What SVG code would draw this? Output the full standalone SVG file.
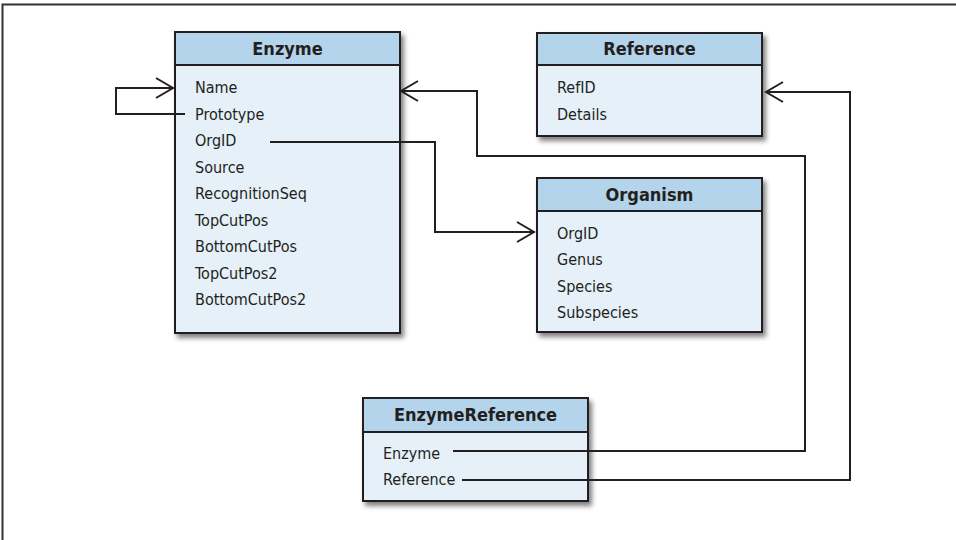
<svg xmlns="http://www.w3.org/2000/svg" width="956" height="540" viewBox="0 0 956 540">
<defs>
<filter id="sh" x="-10%" y="-10%" width="130%" height="130%">
<feGaussianBlur in="SourceAlpha" stdDeviation="2.5"/>
<feOffset dx="3" dy="4" result="b"/>
<feComponentTransfer><feFuncA type="linear" slope="0.5"/></feComponentTransfer>
<feMerge><feMergeNode/><feMergeNode in="SourceGraphic"/></feMerge>
</filter>
<marker id="arr" markerUnits="userSpaceOnUse" markerWidth="24" markerHeight="24" refX="18" refY="11" orient="auto">
<path d="M1,1 L18,11 L1,21" fill="none" stroke="#231f20" stroke-width="2"/>
</marker>
</defs>
<style>
.body{fill:#e5f0f8;stroke:#231f20;stroke-width:2}
.head{fill:#b3d4ea;stroke:#231f20;stroke-width:2}
.t{font-family:"DejaVu Sans Condensed","Liberation Sans Narrow","Liberation Sans",sans-serif;font-size:16px;fill:#231f20}
.h{font-family:"DejaVu Sans Condensed","Liberation Sans Narrow","Liberation Sans",sans-serif;font-size:18px;font-weight:bold;fill:#231f20;text-anchor:middle}
.c{fill:none;stroke:#231f20;stroke-width:2}
</style>
<rect width="956" height="540" fill="#fff"/>
<path d="M2.5,540 V4.5 H956" fill="none" stroke="#333" stroke-width="2"/>

<g id="enzyme">
<g filter="url(#sh)">
<rect class="body" x="175" y="32" width="225" height="301"/>
</g>
<rect class="head" x="175" y="32" width="225" height="33"/>
<text class="h" x="287.5" y="55">Enzyme</text>
<text class="t" x="195" y="93">Name</text>
<text class="t" x="195" y="119.5">Prototype</text>
<text class="t" x="195" y="146">OrgID</text>
<text class="t" x="195" y="172.5">Source</text>
<text class="t" x="195" y="199">RecognitionSeq</text>
<text class="t" x="195" y="225.5">TopCutPos</text>
<text class="t" x="195" y="252">BottomCutPos</text>
<text class="t" x="195" y="278.5">TopCutPos2</text>
<text class="t" x="195" y="305">BottomCutPos2</text>
</g>

<g id="reference">
<g filter="url(#sh)">
<rect class="body" x="537" y="33" width="225" height="103"/>
</g>
<rect class="head" x="537" y="33" width="225" height="32"/>
<text class="h" x="649.5" y="55">Reference</text>
<text class="t" x="557" y="93">RefID</text>
<text class="t" x="557" y="119.5">Details</text>
</g>

<g id="organism">
<g filter="url(#sh)">
<rect class="body" x="537" y="178" width="225" height="154"/>
</g>
<rect class="head" x="537" y="178" width="225" height="33"/>
<text class="h" x="649.5" y="201">Organism</text>
<text class="t" x="557" y="238.5">OrgID</text>
<text class="t" x="557" y="265">Genus</text>
<text class="t" x="557" y="291.5">Species</text>
<text class="t" x="557" y="318">Subspecies</text>
</g>

<g id="enzymereference">
<g filter="url(#sh)">
<rect class="body" x="363" y="398" width="225" height="103"/>
</g>
<rect class="head" x="363" y="398" width="225" height="34"/>
<text class="h" x="475.5" y="421">EnzymeReference</text>
<text class="t" x="383" y="459">Enzyme</text>
<text class="t" x="383" y="485">Reference</text>
</g>

<g id="connectors">
<path class="c" d="M185,114 H116 V88 H173" marker-end="url(#arr)"/>
<path class="c" d="M270,142 H435 V232 H534" marker-end="url(#arr)"/>
<path class="c" d="M453,451 H805 V156 H477 V91 H401" marker-end="url(#arr)"/>
<path class="c" d="M462,480 H850 V92 H766" marker-end="url(#arr)"/>
</g>
</svg>
